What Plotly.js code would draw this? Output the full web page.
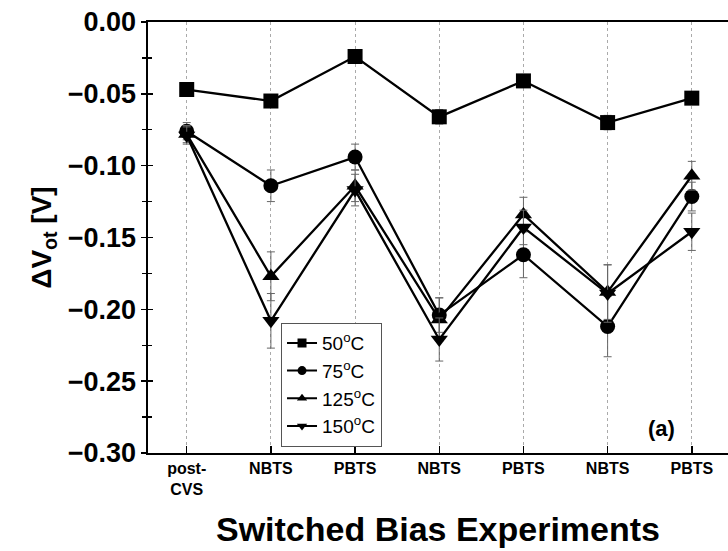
<!DOCTYPE html>
<html>
<head>
<meta charset="utf-8">
<script src="https://cdn.plot.ly/plotly-3.0.1.min.js"></script>
<style>html,body{margin:0;padding:0;background:#fff;}#chart{width:728px;height:551px;}</style>
</head>
<body>
<div id="chart"></div>
<script>
// categories (x positions 0..6)
const categories = ["post-<br>CVS", "NBTS", "PBTS", "NBTS", "PBTS", "NBTS", "PBTS"];
const xIndex = [0, 1, 2, 3, 4, 5, 6];
const seriesNames = ["50<sup>o</sup>C", "75<sup>o</sup>C", "125<sup>o</sup>C", "150<sup>o</sup>C"];

const v50  = [-0.047, -0.055, -0.024, -0.066, -0.041, -0.070, -0.053];
const e50  = [0.004, 0.004, 0.003, 0.005, 0.004, 0.005, 0.004];
const v75  = [-0.076, -0.114, -0.094, -0.204, -0.162, -0.212, -0.1215];
const e75  = [0.006, 0.011, 0.009, 0.012, 0.016, 0.021, 0.010];
const v125 = [-0.078, -0.177, -0.114, -0.207, -0.134, -0.188, -0.107];
const e125 = [0.006, 0.017, 0.011, 0.015, 0.012, 0.019, 0.010];
const v150 = [-0.079, -0.208, -0.117, -0.221, -0.143, -0.189, -0.146];
const e150 = [0.006, 0.019, 0.011, 0.015, 0.012, 0.020, 0.013];

const values = [v50, v75, v125, v150];
const errors = [e50, e75, e125, e150];
const symbols = ["square", "circle", "triangle-up", "triangle-down"];

const FONT = "Liberation Sans, Arial, sans-serif";

const traces = values.map((v, i) => ({
  x: xIndex,
  y: v,
  name: seriesNames[i],
  type: "scatter",
  mode: "lines+markers",
  showlegend: false,
  line: {color: "#000", width: 2.3},
  marker: {symbol: symbols[i], size: 15, color: "#000"},
  error_y: {type: "data", array: errors[i], visible: true, color: "#666", thickness: 1, width: 4}
}));

// legend-only entries with smaller symbols, as in the reference legend
values.forEach((v, i) => {
  traces.push({
    x: [null], y: [null], name: seriesNames[i], type: "scatter", mode: "lines+markers",
    line: {color: "#000", width: 2}, marker: {symbol: symbols[i], size: 9, color: "#000"},
    showlegend: true, hoverinfo: "skip"
  });
});

// overlay axis giving inner ticks on the y axis (crossing ticks)
traces.push({x: [0], y: [null], yaxis: "y2", showlegend: false, hoverinfo: "skip", type: "scatter", mode: "markers"});

const layout = {
  width: 728, height: 551,
  margin: {l: 148, r: 0, t: 22, b: 98},
  paper_bgcolor: "#fff", plot_bgcolor: "#fff",
  font: {family: FONT, color: "#000"},
  showlegend: true,
  legend: {
    x: 0.229, y: 0.302, xanchor: "left", yanchor: "top",
    bordercolor: "#555", borderwidth: 1.2, bgcolor: "#fff",
    font: {family: FONT, size: 19, color: "#000"},
    tracegroupgap: 0, itemwidth: 30
  },
  xaxis: {
    range: [-0.46, 6.43],
    tickmode: "array", tickvals: xIndex, ticktext: categories,
    tickfont: {family: FONT, size: 16, weight: "bold"},
    ticks: "inside", ticklen: 7, tickwidth: 1.5, tickcolor: "#000",
    showline: true, linecolor: "#000", linewidth: 1.6, mirror: true,
    showgrid: true, gridcolor: "#aaa", griddash: "dot", gridwidth: 1,
    zeroline: false,
    title: {text: "Switched Bias Experiments", font: {family: FONT, size: 34, weight: "bold"}, standoff: 20}
  },
  yaxis: {
    range: [-0.30, 0.00],
    dtick: 0.05, tick0: 0, tickformat: ".2f",
    tickfont: {family: FONT, size: 27, weight: "bold"},
    ticks: "outside", ticklen: 5, tickwidth: 1.5, tickcolor: "#000",
    minor: {ticks: "outside", ticklen: 4, dtick: 0.025, tickcolor: "#000", tickwidth: 1.2},
    showline: true, linecolor: "#000", linewidth: 1.6,
    showgrid: false, zeroline: false,
    title: {text: "ΔV<sub>ot</sub> [V]", font: {family: FONT, size: 28, weight: "bold"}, standoff: 8}
  },
  yaxis2: {
    overlaying: "y", matches: "y", side: "left",
    range: [-0.30, 0.00], dtick: 0.05, tick0: 0,
    ticks: "inside", ticklen: 5, tickwidth: 1.5, tickcolor: "#000",
    minor: {ticks: "inside", ticklen: 4, dtick: 0.025, tickcolor: "#000", tickwidth: 1.2},
    showticklabels: false, showline: false, showgrid: false, zeroline: false
  },
  annotations: [{
    text: "(a)", xref: "paper", yref: "paper", x: 0.885, y: 0.058,
    xanchor: "center", yanchor: "middle",
    showarrow: false, font: {family: FONT, size: 22, weight: "bold"}
  }]
};

Plotly.newPlot("chart", traces, layout, {displayModeBar: false, staticPlot: true});
</script>
</body>
</html>
